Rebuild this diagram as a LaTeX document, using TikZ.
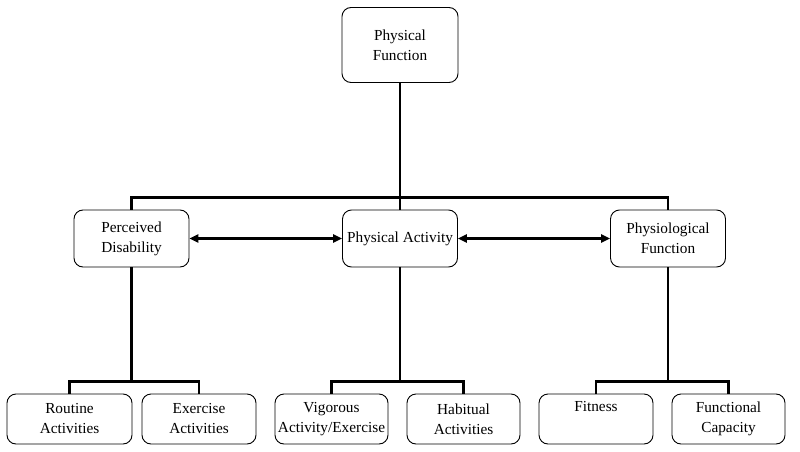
\documentclass[tikz,border=0pt]{standalone}
\usepackage{fontspec}
\setmainfont{Liberation Serif}
\usetikzlibrary{arrows.meta}
\tikzset{
  pfbox/.style={draw, rounded corners=9pt, line width=0.9pt, align=center, inner sep=0pt,
    font=\fontsize{15.3}{20}\selectfont},
  midbox/.style={pfbox, minimum width=115pt, minimum height=57pt},
  leafbox/.style={pfbox, minimum height=50pt},
  trunk/.style={line width=2.8pt},
  link/.style={line width=2.4pt, {Triangle[length=9pt,width=8pt]}-{Triangle[length=9pt,width=8pt]}}
}
\begin{document}
\begin{tikzpicture}[x=1pt,y=-1pt]
\useasboundingbox (0,0) rectangle (800,452);
\node[pfbox, minimum width=116pt, minimum height=75pt] (pf) at (400,45) {Physical\\Function};
\node[midbox] (pd) at (131.5,238.5) {Perceived\\Disability};
\node[midbox] (pa) at (400,238.5) {Physical Activity};
\node[midbox] (pyf) at (668,238.5) {Physiological\\Function};
\node[leafbox, minimum width=125pt] (ra) at (69.5,419) {Routine\\Activities};
\node[leafbox, minimum width=114pt] (ea) at (199,419) {Exercise\\Activities};
\node[leafbox, minimum width=113pt] (va) at (331.5,419) {Vigorous\\Activity/Exercise};
\node[leafbox, minimum width=113pt] (ha) at (463.5,419) {Habitual\\Activities};
\node[leafbox, minimum width=114pt] (fi) at (596,419) {Fitness\\\strut};
\node[leafbox, minimum width=113pt] (fc) at (728.5,419) {Functional\\Capacity};
\draw[trunk] (pa.north) -- (pf.south);
\draw[trunk] (pd.north) -- ++(0,-12) -| (pf.south);
\draw[trunk] (pyf.north) -- ++(0,-12) -| (pf.south);
\draw[trunk] (ra.north) -- ++(0,-12) -| (pd.south);
\draw[trunk] (ea.north) -- ++(0,-12) -| (pd.south);
\draw[trunk] (va.north) -- ++(0,-12) -| (pa.south);
\draw[trunk] (ha.north) -- ++(0,-12) -| (pa.south);
\draw[trunk] (fi.north) -- ++(0,-12) -| (pyf.south);
\draw[trunk] (fc.north) -- ++(0,-12) -| (pyf.south);
\draw[link] (pd.east) -- (pa.west);
\draw[link] (pa.east) -- (pyf.west);
\end{tikzpicture}
\end{document}
